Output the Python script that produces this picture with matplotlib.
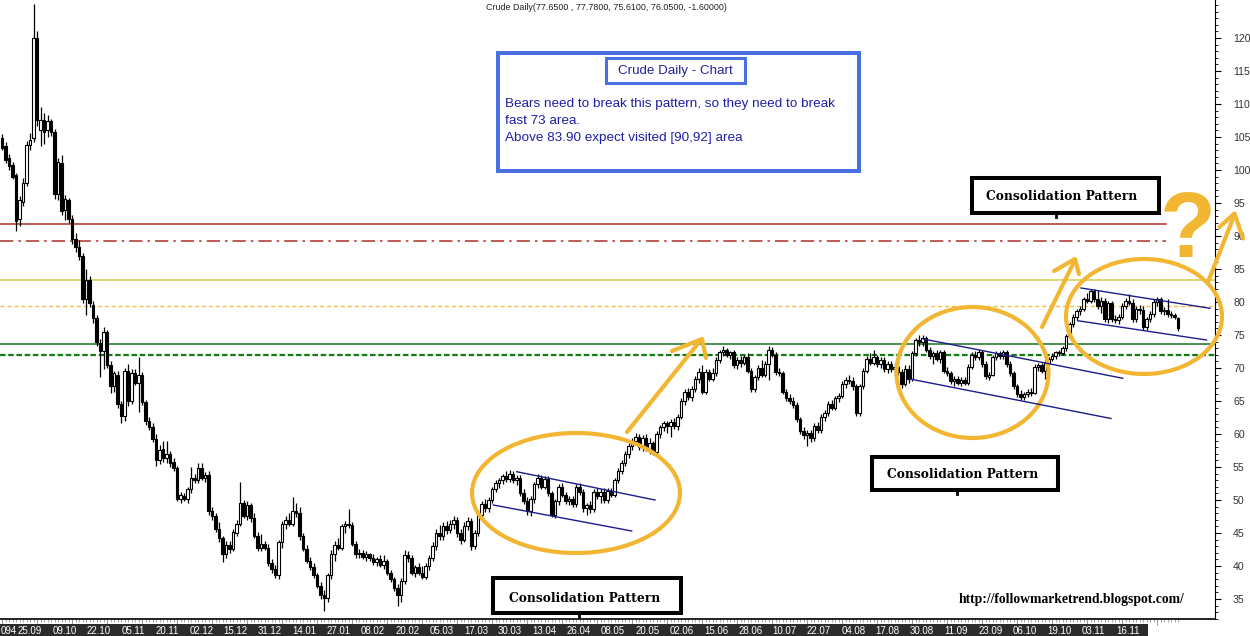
import numpy as np
import matplotlib
matplotlib.use("Agg")
import matplotlib.pyplot as plt
from matplotlib.patches import Rectangle, Ellipse

plt.rcParams['font.family'] = ['Liberation Sans', 'DejaVu Sans']

# daily candles (oldest first)
opens = [
    104.8, 103.6, 101.8, 100.8, 99.2, 92.6, 95.2, 98.0, 103.8, 104.8,
    120.0, 106.0, 107.6, 106.0, 107.4, 105.8, 96.4, 101.0, 94.0, 95.4,
    92.6, 89.6, 88.4, 87.0, 80.4, 83.4, 79.6, 77.6, 73.8, 72.6,
    75.4, 70.4, 67.2, 69.0, 64.6, 62.8, 69.6, 65.0, 69.2, 67.8,
    69.0, 64.8, 62.0, 61.0, 59.2, 56.0, 57.8, 56.4, 57.0, 55.8,
    54.8, 50.2, 50.6, 50.2, 51.6, 53.4, 53.0, 54.8, 53.4, 53.8,
    48.4, 47.6, 45.6, 44.2, 41.8, 43.2, 42.6, 45.0, 46.4, 49.6,
    47.6, 49.2, 47.2, 44.6, 42.8, 43.4, 42.8, 40.4, 39.6, 38.6,
    43.6, 46.4, 47.0, 46.4, 48.4, 48.0, 44.6, 42.6, 40.8, 39.8,
    38.6, 37.0, 35.6, 35.2, 38.6, 41.8, 43.2, 42.8, 46.0, 46.4,
    46.2, 43.4, 41.8, 42.0, 41.4, 41.8, 41.2, 40.6, 41.0, 40.2,
    40.8, 39.0, 38.0, 36.6, 35.6, 37.8, 41.6, 41.2, 39.0, 39.8,
    39.0, 38.4, 40.0, 41.2, 43.0, 45.0, 44.6, 46.0, 45.4, 46.4,
    47.0, 45.0, 44.0, 46.0, 46.8, 43.0, 45.0, 47.8, 49.4, 48.8,
    50.0, 51.6, 52.6, 53.0, 53.6, 53.2, 54.0, 53.0, 53.4, 51.0,
    49.8, 48.4, 50.2, 52.4, 53.4, 52.0, 53.2, 51.0, 47.8, 49.8,
    52.0, 50.8, 49.8, 50.2, 49.4, 52.0, 51.2, 48.8, 49.2, 48.6,
    51.2, 50.6, 51.2, 50.0, 51.4, 50.8, 53.0, 54.4, 55.6, 57.0,
    58.2, 59.0, 59.6, 58.0, 59.4, 57.8, 58.6, 57.2, 60.0, 61.0,
    61.6, 61.2, 61.8, 61.2, 62.6, 65.0, 66.4, 65.6, 66.8, 68.4,
    69.4, 66.4, 69.4, 68.4, 69.2, 71.2, 72.4, 72.8, 72.0, 72.4,
    70.4, 71.2, 70.8, 71.6, 69.6, 66.8, 68.6, 70.0, 69.0, 70.6,
    72.8, 72.0, 69.4, 69.2, 66.4, 65.4, 65.0, 64.4, 62.2, 60.4,
    59.8, 60.2, 59.4, 61.2, 60.6, 62.6, 63.2, 64.6, 64.0, 65.4,
    65.8, 67.6, 68.2, 68.0, 67.2, 63.2, 67.2, 69.6, 71.4, 70.8,
    71.6, 70.6, 71.2, 69.8, 70.6, 69.8, 70.2, 69.4, 67.6, 69.8,
    68.4, 72.2, 74.2, 74.0, 74.6, 72.8, 71.8, 72.2, 71.4, 72.4,
    69.6, 69.2, 68.0, 68.4, 67.8, 68.2, 67.8, 70.2, 72.0, 71.6,
    72.4, 70.6, 68.6, 69.0, 71.6, 72.2, 71.8, 72.4, 70.6, 69.2,
    67.2, 66.0, 65.6, 66.0, 66.4, 66.2, 70.2, 70.4, 69.6, 70.8,
    71.4, 71.8, 72.4, 72.2, 73.0, 74.8, 76.6, 77.8, 78.6, 79.0,
    80.4, 80.2, 81.6, 80.4, 79.4, 80.2, 77.4, 79.8, 77.4, 77.2,
    77.8, 79.4, 80.2, 79.8, 77.4, 79.0, 78.8, 76.2, 77.4, 78.2,
    80.0, 80.4, 78.6, 78.8, 78.2, 78.0, 77.65]

highs = [
    105.4, 104.2, 102.5, 101.2, 99.6, 96.0, 98.8, 104.4, 105.6, 125.2,
    121.0, 109.6, 108.6, 108.4, 107.8, 106.2, 101.8, 102.2, 96.2, 95.8,
    93.2, 90.4, 89.4, 87.4, 85.0, 84.0, 80.2, 78.0, 74.4, 76.2,
    75.8, 71.0, 69.6, 69.6, 65.0, 70.0, 70.6, 69.8, 69.8, 71.6,
    69.4, 65.2, 62.6, 61.6, 60.0, 58.4, 59.0, 59.0, 57.4, 56.4,
    55.2, 51.2, 51.0, 52.0, 55.0, 54.0, 55.6, 55.6, 54.2, 54.4,
    49.0, 48.0, 46.6, 44.6, 43.8, 43.8, 45.6, 47.0, 52.8, 50.0,
    49.8, 49.6, 48.0, 45.2, 44.8, 43.8, 43.4, 41.0, 40.2, 44.0,
    46.8, 47.6, 48.0, 50.4, 49.6, 49.0, 45.0, 43.2, 41.4, 40.4,
    39.0, 37.6, 36.4, 39.0, 42.4, 43.8, 44.2, 46.4, 46.8, 48.6,
    46.6, 43.8, 42.6, 42.4, 42.2, 42.0, 41.8, 41.4, 41.6, 41.6,
    41.0, 39.4, 38.4, 37.2, 38.2, 42.4, 42.2, 41.6, 40.2, 40.4,
    40.0, 40.4, 41.6, 43.6, 45.6, 46.2, 46.6, 46.8, 47.0, 47.6,
    47.4, 45.6, 46.6, 47.4, 47.2, 45.4, 48.2, 49.8, 50.2, 50.4,
    52.0, 53.0, 53.4, 54.0, 54.4, 54.6, 54.4, 53.8, 53.8, 51.6,
    50.4, 50.6, 52.8, 54.0, 53.8, 53.6, 53.6, 51.4, 50.2, 52.4,
    52.6, 51.2, 50.6, 50.6, 52.4, 52.6, 51.6, 49.6, 49.8, 51.6,
    51.8, 51.6, 51.8, 51.8, 51.8, 53.4, 54.8, 56.0, 57.4, 58.6,
    59.4, 60.2, 60.0, 59.8, 60.0, 59.4, 59.0, 60.4, 61.4, 62.0,
    62.0, 62.2, 62.4, 63.0, 65.4, 66.8, 67.0, 67.2, 68.8, 70.0,
    70.4, 69.8, 69.8, 70.0, 71.6, 72.8, 73.4, 73.0, 72.6, 72.8,
    71.6, 71.8, 72.0, 72.2, 70.0, 69.0, 70.4, 71.2, 71.0, 73.4,
    73.2, 72.4, 70.0, 69.6, 66.8, 66.0, 65.6, 64.8, 62.6, 61.0,
    60.6, 60.6, 61.6, 61.8, 63.0, 63.6, 65.0, 65.2, 65.8, 66.2,
    68.0, 68.6, 69.0, 68.6, 67.6, 67.6, 70.0, 71.8, 72.2, 72.8,
    72.0, 71.6, 71.6, 71.0, 71.0, 70.8, 71.0, 69.8, 70.4, 70.4,
    72.6, 74.6, 75.0, 75.0, 74.8, 73.2, 72.6, 72.8, 72.8, 72.8,
    70.2, 69.6, 68.8, 68.8, 68.6, 68.6, 70.6, 72.4, 72.6, 72.8,
    72.8, 71.0, 69.4, 72.0, 72.6, 72.6, 72.8, 72.8, 71.0, 69.6,
    67.6, 66.6, 66.4, 66.8, 67.0, 70.6, 70.8, 70.8, 71.2, 71.6,
    72.2, 72.6, 72.8, 73.4, 75.2, 77.0, 78.2, 79.0, 79.4, 80.8,
    81.4, 82.0, 82.0, 81.8, 80.8, 80.6, 80.2, 80.2, 78.0, 78.2,
    79.8, 80.6, 81.2, 80.4, 79.4, 79.6, 79.4, 77.8, 78.6, 80.4,
    80.8, 80.8, 79.2, 80.4, 78.6, 78.4, 77.78]

lows = [
    103.0, 101.0, 100.0, 98.6, 90.8, 91.5, 94.6, 97.6, 103.0, 104.2,
    106.6, 103.6, 104.0, 105.0, 105.2, 95.6, 95.4, 93.2, 92.4, 92.0,
    88.8, 87.6, 86.4, 79.8, 78.0, 79.2, 76.8, 73.4, 68.6, 69.8,
    70.0, 66.2, 66.4, 64.0, 61.6, 62.0, 64.2, 64.6, 67.4, 63.4,
    64.4, 61.4, 60.6, 58.8, 55.2, 55.4, 55.8, 55.6, 55.0, 54.4,
    49.8, 49.6, 49.8, 49.6, 51.0, 52.6, 52.6, 53.0, 52.8, 47.8,
    47.0, 45.2, 43.6, 40.6, 41.2, 42.0, 42.2, 44.6, 46.0, 47.2,
    47.0, 46.6, 44.2, 42.2, 42.2, 42.4, 40.0, 39.0, 38.2, 38.0,
    42.8, 45.6, 46.0, 46.0, 47.4, 44.0, 42.2, 40.4, 39.4, 38.2,
    36.6, 35.0, 33.2, 34.6, 38.0, 40.8, 42.4, 42.4, 45.0, 45.8,
    43.0, 41.2, 41.2, 41.0, 40.8, 40.8, 40.2, 40.0, 39.8, 39.6,
    38.6, 37.6, 36.2, 34.0, 34.6, 37.2, 40.6, 38.6, 38.4, 38.6,
    38.0, 38.0, 39.4, 40.8, 42.4, 44.0, 44.0, 44.8, 45.0, 45.6,
    44.4, 43.4, 43.6, 45.4, 42.4, 42.6, 44.6, 47.2, 48.2, 48.2,
    49.6, 51.2, 51.8, 52.4, 52.8, 52.8, 52.6, 52.2, 50.6, 49.4,
    47.8, 47.6, 49.6, 51.8, 51.6, 51.6, 50.6, 47.4, 47.2, 49.2,
    50.4, 49.4, 49.2, 49.0, 49.0, 50.8, 48.2, 47.8, 48.0, 48.2,
    50.2, 49.6, 49.6, 49.6, 50.4, 50.4, 52.6, 54.0, 55.2, 56.4,
    57.6, 58.4, 57.6, 57.4, 57.4, 57.0, 56.8, 56.8, 59.4, 60.4,
    60.2, 59.6, 60.8, 60.6, 62.2, 64.4, 65.2, 65.0, 66.4, 67.8,
    66.0, 66.0, 68.0, 68.0, 68.8, 70.8, 71.8, 71.6, 71.4, 70.0,
    69.8, 70.2, 70.4, 69.2, 66.4, 66.4, 68.2, 68.6, 68.6, 68.2,
    71.6, 69.0, 68.8, 66.0, 65.0, 64.6, 64.0, 61.8, 60.0, 59.2,
    58.2, 58.8, 59.0, 60.2, 60.2, 62.0, 62.8, 63.6, 63.6, 64.8,
    65.4, 67.0, 67.6, 66.6, 62.8, 62.8, 66.8, 69.2, 70.4, 70.4,
    70.2, 70.0, 69.4, 69.2, 69.4, 69.0, 69.0, 67.0, 67.2, 67.8,
    68.0, 71.8, 73.4, 73.4, 72.4, 71.4, 70.6, 71.0, 70.8, 69.2,
    68.8, 67.6, 67.2, 67.4, 67.2, 67.4, 67.4, 69.8, 71.2, 71.2,
    70.2, 68.4, 68.2, 68.8, 71.2, 71.4, 71.4, 70.2, 68.8, 66.8,
    65.6, 65.2, 65.2, 65.6, 65.8, 66.0, 69.6, 69.2, 68.4, 70.4,
    71.0, 71.4, 71.8, 72.0, 72.6, 74.4, 76.2, 77.2, 78.0, 78.6,
    79.8, 79.8, 80.0, 79.0, 78.4, 77.0, 76.8, 77.0, 76.8, 76.6,
    77.4, 79.0, 79.6, 77.0, 77.0, 78.2, 75.8, 75.8, 77.0, 77.8,
    79.4, 78.2, 78.0, 77.8, 77.6, 77.4, 75.61]

closes = [
    103.4, 101.5, 100.6, 99.0, 92.2, 95.5, 98.0, 103.8, 104.6, 120.0,
    107.6, 107.6, 105.8, 107.4, 105.8, 96.4, 101.2, 93.8, 95.6, 92.6,
    89.6, 88.4, 87.0, 80.4, 83.4, 79.8, 77.6, 74.0, 72.6, 75.4,
    70.4, 67.2, 69.2, 64.6, 62.8, 69.6, 65.0, 69.2, 67.8, 69.0,
    64.8, 62.0, 61.0, 59.2, 56.0, 57.6, 56.4, 57.0, 55.6, 54.8,
    50.2, 50.8, 50.2, 51.6, 53.4, 53.0, 54.8, 53.4, 53.8, 48.4,
    47.6, 45.6, 44.2, 41.8, 43.2, 42.6, 45.2, 46.4, 49.6, 47.6,
    49.2, 47.2, 44.6, 42.8, 43.4, 42.8, 40.4, 39.6, 38.6, 43.6,
    46.4, 47.0, 46.4, 48.4, 48.0, 44.6, 42.6, 40.8, 39.8, 38.6,
    37.0, 35.6, 35.2, 38.6, 41.8, 43.2, 42.8, 46.0, 46.4, 46.2,
    43.4, 41.8, 42.0, 41.4, 41.8, 41.2, 40.6, 41.0, 40.2, 40.8,
    39.0, 38.0, 36.6, 35.6, 37.8, 41.6, 41.2, 39.0, 39.8, 39.0,
    38.4, 40.0, 41.2, 43.0, 45.0, 44.6, 46.0, 45.4, 46.4, 47.0,
    45.0, 44.0, 46.0, 46.8, 43.0, 45.0, 47.8, 49.4, 48.8, 50.0,
    51.6, 52.6, 53.0, 53.6, 53.2, 54.0, 53.0, 53.4, 51.0, 49.8,
    48.4, 50.2, 52.4, 53.4, 52.0, 53.2, 51.0, 47.8, 49.8, 52.0,
    50.8, 49.8, 50.2, 49.4, 52.0, 51.2, 48.8, 49.2, 48.6, 51.2,
    50.6, 51.2, 50.0, 51.4, 50.8, 53.0, 54.4, 55.6, 57.0, 58.2,
    59.0, 59.6, 58.0, 59.4, 57.8, 58.6, 57.2, 60.0, 61.0, 61.6,
    61.2, 61.8, 61.2, 62.6, 65.0, 66.4, 65.6, 66.8, 68.4, 69.4,
    66.4, 69.4, 68.4, 69.2, 71.2, 72.4, 72.8, 72.0, 72.4, 70.4,
    71.2, 70.8, 71.6, 69.6, 66.8, 68.6, 70.0, 69.0, 70.6, 72.8,
    72.0, 69.4, 69.2, 66.4, 65.4, 65.0, 64.4, 62.2, 60.4, 59.8,
    60.2, 59.4, 61.2, 60.6, 62.6, 63.2, 64.6, 64.0, 65.4, 65.8,
    67.6, 68.2, 68.0, 67.2, 63.2, 67.2, 69.6, 71.4, 70.8, 71.6,
    70.6, 71.2, 69.8, 70.6, 69.8, 70.2, 69.4, 67.6, 69.8, 68.4,
    72.2, 74.2, 74.0, 74.6, 72.8, 71.8, 72.2, 71.4, 72.4, 69.6,
    69.2, 68.0, 68.4, 67.8, 68.2, 67.8, 70.2, 72.0, 71.6, 72.4,
    70.6, 68.8, 69.0, 71.6, 72.2, 71.8, 72.4, 70.6, 69.2, 67.2,
    66.0, 65.6, 66.0, 66.4, 66.2, 70.2, 70.4, 69.6, 70.8, 71.4,
    71.8, 72.4, 72.2, 73.0, 74.8, 76.6, 77.8, 78.6, 79.0, 80.4,
    80.2, 81.6, 80.4, 79.4, 80.2, 77.4, 79.8, 77.4, 77.2, 77.8,
    79.4, 80.2, 79.8, 77.4, 79.0, 78.8, 76.2, 77.4, 78.2, 80.0,
    80.4, 78.6, 78.8, 78.2, 78.0, 77.7, 76.05]

date_labels = ["094", "25.09", "09.10", "22.10", "05.11", "20.11", "02.12", "15.12",
               "31.12", "14.01", "27.01", "08.02", "20.02", "05.03", "17.03", "30.03",
               "13.04", "26.04", "08.05", "20.05", "02.06", "15.06", "28.06", "10.07",
               "22.07", "04.08", "17.08", "30.08", "11.09", "23.09", "06.10", "19.10",
               "03.11", "16.11"]
price_ticks = list(range(35, 121, 5))

# support / resistance levels
red_levels = [91.8, 89.3]
yellow_levels = [83.3, 79.4]
green_levels = [73.6, 72.0]

title = "Crude Daily(77.6500 , 77.7800, 75.6100, 76.0500, -1.60000)"
note_title = "Crude Daily - Chart"
note_lines = ["Bears need to break this pattern, so they need to break",
              "fast 73 area.",
              "Above 83.90 expect visited [90,92] area"]

W, H = 1250, 636
fig = plt.figure(figsize=(W / 100, H / 100), dpi=100)
ax = fig.add_axes([0, 17 / H, 1215 / W, 619 / H])

n = len(closes)
x = np.arange(n)
o = np.array(opens)
c = np.array(closes)
ax.set_xlim(-2 / 3.5, 1213 / 3.5)
ax.set_ylim(120 - 581 / 6.6, 120 + 38 / 6.6)

# candles
ax.vlines(x, lows, highs, color='black', lw=0.9, zorder=2)
body_lo = np.minimum(o, c)
body_h = np.maximum(np.abs(c - o), 0.15)
fills = ['white' if cc >= oo else 'black' for oo, cc in zip(o, c)]
ax.bar(x, body_h, bottom=body_lo, width=0.64, color=fills,
       edgecolor='black', linewidth=0.8, zorder=3)

# horizontal levels
ax.axhline(red_levels[0], xmax=0.96, color='#b5403a', lw=1.2, zorder=1)
ax.axhline(red_levels[1], xmax=0.96, color='#b5403a', lw=1.2,
           ls=(0, (8, 3, 1.5, 3)), zorder=1)
ax.axhline(yellow_levels[0], color='#d9cf55', lw=1.2, zorder=1)
ax.axhline(yellow_levels[1], color='#f2c14e', lw=1.0, ls=(0, (3, 2)), zorder=1)
ax.axhline(green_levels[0], color='#2e7d32', lw=1.2, zorder=1)
ax.axhline(green_levels[1], color='#127a12', lw=1.6, ls=(0, (2.5, 1.2)), zorder=1)

# axes styling
for s in ['top', 'left']:
    ax.spines[s].set_visible(False)
ax.spines['right'].set_color('black')
ax.spines['bottom'].set_linewidth(1.2)
ax.yaxis.tick_right()
ax.set_yticks(price_ticks)
ax.set_yticks(np.arange(32, 126), minor=True)
ax.tick_params(axis='y', which='major', direction='out', length=4, width=0.8,
               pad=9, labelsize=7.6, labelcolor='#333333')
ax.tick_params(axis='y', which='minor', direction='out', length=2, width=0.6)
ax.set_xticks(np.arange(0, n, 10))
ax.set_xticks(x, minor=True)
ax.tick_params(axis='x', which='both', direction='out', color='#9a9a9a',
               labelbottom=False)
ax.tick_params(axis='x', which='major', length=4)
ax.tick_params(axis='x', which='minor', length=2.5)

# date strip at the bottom
st = fig.add_axes([0, 0, 1148 / W, 12 / H])
st.set_facecolor('#2b2b2b')
st.set_xlim(0, 1148)
st.set_ylim(0, 1)
st.set_xticks([])
st.set_yticks([])
for s in st.spines.values():
    s.set_visible(False)
st.text(1, 0.45, date_labels[0], color='white', fontsize=7, ha='left', va='center')
for k, lab in enumerate(date_labels[1:]):
    st.text(30 + 34.3 * k, 0.45, lab, color='white', fontsize=7,
            ha='center', va='center')

# overlay in pixel coordinates for the hand drawn notes
ov = fig.add_axes([0, 0, 1, 1])
ov.set_xlim(0, W)
ov.set_ylim(H, 0)
ov.axis('off')
ov.set_zorder(5)

ov.text(606, 7, title, fontsize=6.4, color='#222222', ha='center', va='center')

# channels
navy = '#1c1c8c'
channels = [((516.7, 471.7), (655, 500)), ((493.3, 505), (631.7, 531)),
            ((923.5, 339), (1122.8, 378.3)), ((910, 379), (1111, 418.5)),
            ((1081, 288), (1210, 308.3)), ((1077.6, 320.7), (1206.5, 340))]
for (x0, y0), (x1, y1) in channels:
    ov.plot([x0, x1], [y0, y1], color=navy, lw=1)

orange = '#f2b632'
for (cx, cy), w, h in [((576, 493), 208, 120), ((972.5, 372.5), 152, 131),
                       ((1144, 316.5), 156, 115)]:
    ov.add_patch(Ellipse((cx, cy), w, h, fill=False, ec=orange, lw=3))

arrows = [
    ([(627, 432), (700, 341)], [(672, 351), (702, 339), (706, 358)]),
    ([(1042, 327), (1074, 262)], [(1054, 271), (1075, 259), (1079, 274)]),
    ([(1208, 282), (1234, 216)], [(1219.5, 227), (1234.5, 213.5), (1243, 238.5)]),
]
for shaft, head in arrows:
    for seg in (shaft, head):
        xs, ys = zip(*seg)
        ov.plot(xs, ys, color=orange, lw=3, solid_capstyle='round',
                solid_joinstyle='round')
ov.text(1188, 257, "?", fontsize=66, fontweight='bold', color=orange,
        ha='center', va='baseline')

# note box
blue = '#4a6fe3'
ov.add_patch(Rectangle((497.5, 52.5), 361, 118.5, fc='white', ec=blue, lw=2.9))
ov.add_patch(Rectangle((606, 58), 139, 25, fc='white', ec=blue, lw=2.2))
ov.text(675, 71, note_title, fontsize=9.6, color='#22229a', ha='center', va='center')
for k, line in enumerate(note_lines):
    ov.text(505, 104 + 16.8 * k, line, fontsize=9.7, color='#1f1fa6',
            ha='left', va='center')

# consolidation labels
for (bx, by, bw, bh), (tx, ty) in [((971.5, 178, 187, 35), (1062, 197)),
                                   ((872, 457, 186, 33), (963, 475)),
                                   ((493, 578, 188, 35), (585, 599))]:
    ov.add_patch(Rectangle((bx, by), bw, bh, fc='white', ec='black', lw=2.9))
    ov.text(tx, ty, "Consolidation Pattern", fontsize=8.8, fontweight='bold',
            family='DejaVu Serif', ha='center', va='center')
    ov.plot([tx - 6, tx - 6], [by + bh, by + bh + 4], color='black', lw=2)

ov.text(1072, 599, "http://followmarketrend.blogspot.com/", fontsize=9.8,
        fontweight='bold', family='Liberation Serif', ha='center', va='center')

fig.savefig('out.png', dpi=100)
